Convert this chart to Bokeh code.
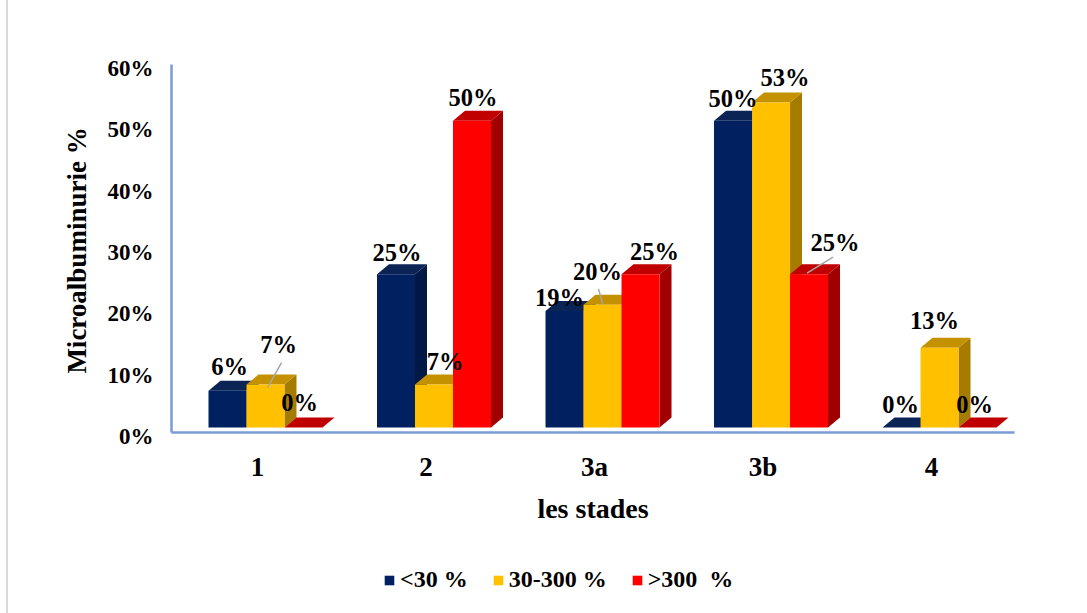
from bokeh.plotting import figure
from bokeh.layouts import column
from bokeh.models import FixedTicker, PrintfTickFormatter, Legend, LegendItem
from bokeh.core.properties import value
from bokeh.embed import file_html
from bokeh.resources import INLINE

# ---- data -------------------------------------------------------------
stades = ["1", "2", "3a", "3b", "4"]
series_names = ["<30 %", "30-300 %", ">300  %"]
alb_lt30 = [6, 25, 19, 50, 0]
alb_30_300 = [7, 7, 20, 53, 13]
alb_gt300 = [0, 50, 25, 25, 0]
y_ticks = [0, 10, 20, 30, 40, 50, 60]
series_values = [alb_lt30, alb_30_300, alb_gt300]

# face colours per series: front, top, side
front_colors = ["#002060", "#FFC000", "#FF0000"]
top_colors = ["#0b2456", "#C49200", "#C00000"]
side_colors = ["#001845", "#A67C00", "#A00000"]

# ---- geometry (pixel sizes converted to data units) -------------------
PX_X = 1 / 168.5          # one screen pixel along x, in category units
PX_Y = 1 / 6.133          # one screen pixel along y, in percent units
BAR_W = 38 * PX_X         # front face width
GROUP_SHIFT = 8 * PX_X    # fronts sit slightly right of the category centre
DEPTH_X = 12 * PX_X       # oblique depth of the 3D boxes
DEPTH_Y = 10 * PX_Y
FLOOR = 9 * PX_Y          # bars stand on the front edge of the floor

FONT = "Liberation Serif"
AXIS_BLUE = "#7b9bd6"

p = figure(width=1087, height=555, output_backend="svg", toolbar_location=None,
           x_range=(-0.046, 5.028), y_range=(-0.652, 61.31),
           min_border_left=165, min_border_right=67,
           min_border_top=60, min_border_bottom=115)
p.xgrid.visible = False
p.ygrid.visible = False
p.outline_line_color = None
p.border_fill_color = None
p.background_fill_color = None

# ---- 3D bars ----------------------------------------------------------
front_renderers = []
for s, vals in enumerate(series_values):
    lefts = [i + 0.5 + GROUP_SHIFT + (s - 1.5) * BAR_W for i in range(len(stades))]
    rights = [x + BAR_W for x in lefts]
    tops = [FLOOR + v for v in vals]
    side_xs = [[r, r + DEPTH_X, r + DEPTH_X, r] for r in rights]
    side_ys = [[FLOOR, FLOOR + DEPTH_Y, t + DEPTH_Y, t] for t in tops]
    top_xs = [[l, r, r + DEPTH_X, l + DEPTH_X] for l, r in zip(lefts, rights)]
    top_ys = [[t, t, t + DEPTH_Y, t + DEPTH_Y] for t in tops]
    p.patches(side_xs, side_ys, fill_color=side_colors[s], line_color=None)
    p.patches(top_xs, top_ys, fill_color=top_colors[s], line_color=None)
    fr = p.quad(left=lefts, right=rights, bottom=FLOOR, top=tops,
                fill_color=front_colors[s], line_color=None)
    front_renderers.append(fr)

# ---- axis lines -------------------------------------------------------
AXIS_X0 = -0.0104
AXIS_X1 = 4.993
AXIS_Y0 = 0.652
AXIS_Y1 = 60.65
p.segment(x0=[AXIS_X0, AXIS_X0], y0=[AXIS_Y0, AXIS_Y0], x1=[AXIS_X1, AXIS_X0],
          y1=[AXIS_Y0, AXIS_Y1], line_color=AXIS_BLUE, line_width=2.5)

# ---- data labels ------------------------------------------------------
# per-label screen offsets (px) from the top-centre of each front face
label_dx = [[2, 1, -5, 0, -1], [13, 11, -5, 14, -5], [-4, 1, 14, 26, -3]]
label_dy = [[-24, -22, -13, -22, -23], [-40, -23, -33, -25, -27], [-25, -23, -23, -32, -23]]
lx, ly, lt, ox, oy = [], [], [], [], []
for s, vals in enumerate(series_values):
    for i, v in enumerate(vals):
        lx.append(i + 0.5 + GROUP_SHIFT + (s - 1) * BAR_W)
        ly.append(FLOOR + v)
        lt.append(f"{v}%")
        ox.append(label_dx[s][i])
        oy.append(label_dy[s][i])
p.text(x=lx, y=ly, text=lt, x_offset=ox, y_offset=oy, text_align="center",
       text_baseline="middle", text_font=value(FONT), text_font_style="bold",
       text_font_size="24.5px", text_color="#000000")

# leader lines: (series, category, start offset px, end offset px)
leaders = [(1, 0, (16, -22), (2, 3)), (1, 2, (-4, -16), (0, -1)), (2, 3, (24, -17), (-2, -1))]
x0s, y0s, x1s, y1s = [], [], [], []
for s, i, (sx, sy), (ex, ey) in leaders:
    cx = i + 0.5 + GROUP_SHIFT + (s - 1) * BAR_W
    cy = FLOOR + series_values[s][i]
    x0s.append(cx + sx * PX_X); y0s.append(cy - sy * PX_Y)
    x1s.append(cx + ex * PX_X); y1s.append(cy - ey * PX_Y)
p.segment(x0=x0s, y0=y0s, x1=x1s, y1=y1s, line_color="#a6a6a6", line_width=1.5)

# ---- axes -------------------------------------------------------------
xa = p.xaxis[0]
xa.ticker = FixedTicker(ticks=[i + 0.5 for i in range(len(stades))])
xa.major_label_overrides = {i + 0.5: s for i, s in enumerate(stades)}
xa.axis_line_color = None
xa.major_tick_line_color = None
xa.minor_tick_line_color = None
xa.major_label_standoff = 5
xa.major_label_text_font = FONT
xa.major_label_text_font_style = "bold"
xa.major_label_text_font_size = "27px"
xa.major_label_text_color = "#000000"
xa.axis_label = "les stades"
xa.axis_label_standoff = 8
xa.axis_label_text_font = FONT
xa.axis_label_text_font_style = "bold"
xa.axis_label_text_font_size = "28px"
xa.axis_label_text_color = "#000000"

ya = p.yaxis[0]
ya.ticker = FixedTicker(ticks=y_ticks)
ya.formatter = PrintfTickFormatter(format="%d%%")
ya.axis_line_color = None
ya.major_tick_line_color = None
ya.minor_tick_line_color = None
ya.major_label_standoff = 6
ya.major_label_text_font = FONT
ya.major_label_text_font_style = "bold"
ya.major_label_text_font_size = "23px"
ya.major_label_text_color = "#000000"
ya.axis_label = "Microalbuminurie %"
ya.axis_label_standoff = 13
ya.axis_label_text_font = FONT
ya.axis_label_text_font_style = "bold"
ya.axis_label_text_font_size = "27px"
ya.axis_label_text_color = "#000000"

# ---- legend strip under the chart ---------------------------------------
# (its frame is aligned with the chart frame by the column layout)
leg = figure(width=1087, height=58, output_backend="svg", toolbar_location=None,
             x_range=(0, 1), y_range=(0, 1),
             min_border_left=0, min_border_right=0, min_border_top=0, min_border_bottom=0)
leg.axis.visible = False
leg.grid.visible = False
leg.outline_line_color = None
leg.border_fill_color = None
leg.background_fill_color = None
# swatch renderers sit outside the strip's visible range; only their legend glyphs show
swatches = [leg.quad(left=[2], right=[3], bottom=[2], top=[3], fill_color=c, line_color=None)
            for c in front_colors]
legend = Legend(
    items=[LegendItem(label=n, renderers=[r]) for n, r in zip(series_names, swatches)],
    orientation="horizontal", location=(218, 20),
    glyph_width=12, glyph_height=12, label_standoff=5, spacing=24,
    label_text_font=FONT, label_text_font_style="bold", label_text_font_size="24px",
    label_text_color="#000000", border_line_color=None, background_fill_alpha=0,
    padding=0, margin=0)
leg.add_layout(legend)

page = column(p, leg, spacing=0)
page.styles = {"background-image":
               "linear-gradient(to right, #ffffff 6px, #d9d9d9 6px, #d9d9d9 8px, #ffffff 8px)"}

open("out.html", "w").write(file_html(page, INLINE))
